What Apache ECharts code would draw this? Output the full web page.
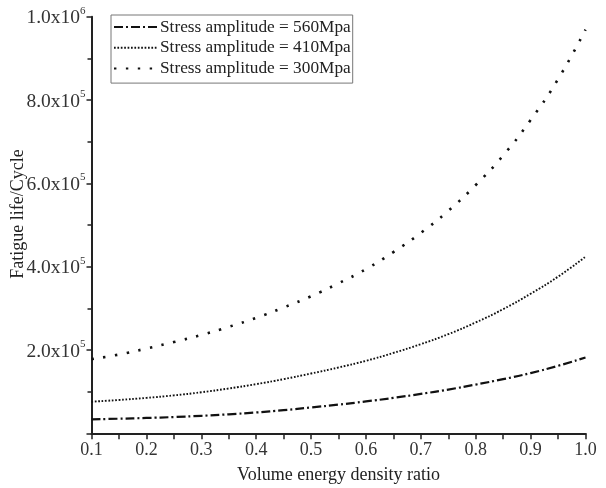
<!DOCTYPE html>
<html>
<head>
<meta charset="utf-8">
<script src="https://cdn.jsdelivr.net/npm/echarts@6/dist/echarts.min.js"></script>
<style>
  html, body { margin: 0; padding: 0; background: #fff; }
  #chart { width: 606px; height: 488px; }
</style>
</head>
<body>
<div id="chart"></div>
<script>
// Volume energy density ratio (x) and fatigue life in cycles for three stress amplitudes
const ratio = [0.1, 0.15, 0.2, 0.25, 0.3, 0.35, 0.4, 0.45, 0.5, 0.55,
               0.6, 0.65, 0.7, 0.75, 0.8, 0.85, 0.9, 0.95, 1.0];

const life560 = [33600, 35000, 36800, 39100, 42000, 45600, 50000, 55500, 62000, 68800,
                 76500, 85000, 94500, 105000, 117000, 130000, 144500, 162000, 182000];

const life410 = [75800, 80000, 85000, 91000, 98500, 107500, 118000, 130000, 143500, 158000,
                 174000, 193000, 214000, 238000, 266000, 298000, 335000, 376000, 424000];

const life300 = [178000, 189000, 203500, 219000, 236000, 255500, 277000, 302000, 329000, 360000,
                 394000, 435000, 481000, 534000, 596000, 667000, 752000, 850000, 969000];

const seriesNames = ['Stress amplitude = 560Mpa', 'Stress amplitude = 410Mpa', 'Stress amplitude = 300Mpa'];
const xTicks = ['0.1', '0.2', '0.3', '0.4', '0.5', '0.6', '0.7', '0.8', '0.9', '1.0'];

const FONT = '"Liberation Serif", "Times New Roman", serif';

function pairs(ys) {
  return ratio.map((x, i) => [x, ys[i]]);
}

// y tick label like 2.0x10^5 with a raised exponent
function sciLabel(v) {
  if (v === 0) return '';
  const exp = Math.floor(Math.log10(v) + 1e-9);
  const mant = (v / Math.pow(10, exp)).toFixed(1);
  return '{m|' + mant + 'x10}{e|' + exp + '}';
}

const chart = echarts.init(document.getElementById('chart'), null, { renderer: 'canvas' });

chart.setOption({
  animation: false,
  backgroundColor: '#fff',
  grid: { left: 91.5, right: 20.5, top: 16.7, bottom: 54.7, containLabel: false, outerBoundsMode: 'none' },
  legend: {
    left: 111, top: 15,
    orient: 'vertical',
    itemWidth: 44, itemHeight: 10, itemGap: 3.8,
    padding: [3.5, 2, 6, 2],
    borderColor: '#777', borderWidth: 1,
    itemStyle: { opacity: 0 },
    textStyle: { fontFamily: FONT, fontSize: 17.3, color: '#222', padding: [0, 0, 0, -3] },
    data: seriesNames
  },
  xAxis: {
    type: 'value',
    min: 0.1, max: 1.0, interval: 0.1,
    name: 'Volume energy density ratio',
    nameLocation: 'middle', nameGap: 33,
    nameTextStyle: { fontFamily: FONT, fontSize: 18, color: '#222' },
    axisLine: { lineStyle: { color: '#222', width: 2 } },
    axisTick: { show: true, inside: false, length: 6, lineStyle: { color: '#222', width: 1.5 } },
    minorTick: { show: true, splitNumber: 2, length: 6, lineStyle: { color: '#222', width: 1.5 } },
    splitLine: { show: false },
    axisLabel: {
      fontFamily: FONT, fontSize: 18, color: '#333', margin: 8,
      formatter: v => xTicks[Math.round((v - 0.1) * 10)] || ''
    }
  },
  yAxis: {
    type: 'value',
    min: 0, max: 1000000, interval: 200000,
    name: 'Fatigue life/Cycle',
    nameLocation: 'middle', nameGap: 64,
    nameMoveOverlap: false,
    nameTextStyle: { fontFamily: FONT, fontSize: 18, color: '#222', padding: [0, 0, 0, 22] },
    axisLine: { show: true, lineStyle: { color: '#222', width: 2 } },
    axisTick: { show: true, length: 5, lineStyle: { color: '#222', width: 1.5 } },
    minorTick: { show: true, splitNumber: 2, length: 4, lineStyle: { color: '#222', width: 1.5 } },
    splitLine: { show: false },
    axisLabel: {
      margin: 6,
      formatter: sciLabel,
      rich: {
        m: { fontFamily: FONT, fontSize: 19.5, color: '#333', verticalAlign: 'bottom' },
        e: { fontFamily: FONT, fontSize: 11, color: '#333', verticalAlign: 'top', padding: [0, 0, 12, 0] }
      }
    }
  },
  series: [
    {
      name: seriesNames[0], type: 'line', smooth: true, symbol: 'none',
      data: pairs(life560), itemStyle: { color: '#111' },
      lineStyle: { color: '#111', width: 2.2, type: [9, 3, 2, 3] }
    },
    {
      name: seriesNames[1], type: 'line', smooth: true, symbol: 'none',
      data: pairs(life410), itemStyle: { color: '#111' },
      lineStyle: { color: '#111', width: 1.9, type: [1.7, 1.7] }
    },
    {
      name: seriesNames[2], type: 'line', smooth: true, symbol: 'none',
      data: pairs(life300), itemStyle: { color: '#111' },
      lineStyle: { color: '#111', width: 2.6, type: [2.4, 9.5] }
    }
  ]
});
</script>
</body>
</html>
